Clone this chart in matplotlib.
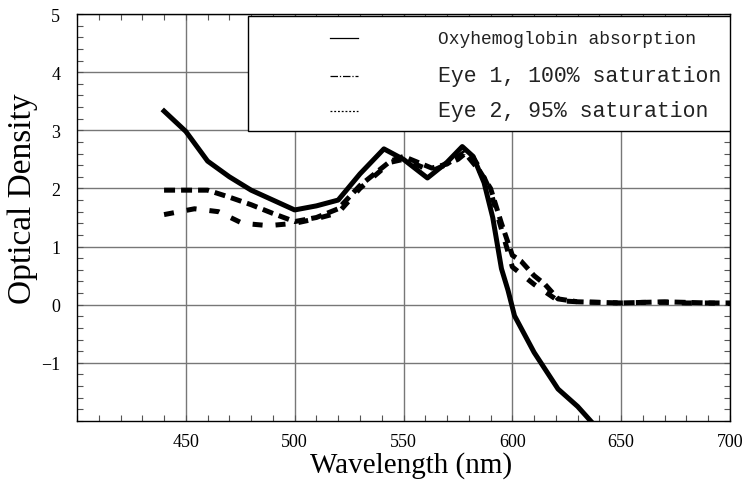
import matplotlib
matplotlib.use('Agg')
import matplotlib.pyplot as plt
from matplotlib.lines import Line2D
from matplotlib.patches import Rectangle
from matplotlib.ticker import MultipleLocator

# oxyhemoglobin absorption (solid)
oxy_x = [440, 450, 460, 470, 480, 490, 500, 510, 520, 530, 541, 550, 561, 570, 577,
         582, 587, 591, 595, 598, 601, 610, 621, 630, 636]
oxy_y = [3.33, 2.98, 2.47, 2.2, 1.97, 1.8, 1.63, 1.7, 1.8, 2.25, 2.68, 2.5, 2.18, 2.45, 2.72,
         2.55, 2.1, 1.5, 0.62, 0.25, -0.19, -0.82, -1.45, -1.75, -2.0]

# eye 1, 100% saturation
eye1_x = [440, 450, 460, 470, 480, 490, 500, 510, 520, 530, 544, 550, 563, 570, 578,
          585, 590, 595, 600, 604, 610, 615, 621, 630, 640, 650, 660, 670, 680, 690, 700]
eye1_y = [1.97, 1.97, 1.97, 1.85, 1.72, 1.57, 1.43, 1.5, 1.65, 2.05, 2.47, 2.55, 2.35, 2.42, 2.62,
          2.3, 2.0, 1.4, 0.85, 0.75, 0.5, 0.35, 0.1, 0.05, 0.04, 0.03, 0.04, 0.05, 0.04, 0.03, 0.03]

# eye 2, 95% saturation
eye2_x = [440, 454, 465, 476, 488, 500, 510, 520, 530, 544, 550, 563, 575, 580,
          585, 590, 595, 600, 610, 621, 630, 640, 650, 660, 670, 680, 690, 700]
eye2_y = [1.55, 1.65, 1.6, 1.4, 1.36, 1.4, 1.48, 1.58, 2.0, 2.45, 2.5, 2.3, 2.5, 2.65,
          2.35, 1.95, 1.3, 0.65, 0.35, 0.07, 0.05, 0.04, 0.03, 0.04, 0.04, 0.03, 0.03, 0.02]

labels = ['Oxyhemoglobin absorption', 'Eye 1, 100% saturation', 'Eye 2, 95% saturation']

fig = plt.figure(figsize=(7.49, 4.85), dpi=100)
ax = fig.add_axes([77/749, 1-422/485, 653/749, 407/485])

ax.plot(oxy_x, oxy_y, color='black', lw=3.6, solid_joinstyle='round')
ax.plot(eye1_x, eye1_y, color='black', lw=3.6, dashes=(2.2, 1.2))
ax.plot(eye2_x, eye2_y, color='black', lw=3.6, dashes=(2.0, 2.6))

ax.set_xlim(400, 700)
ax.set_ylim(-2, 5)
ax.set_xticks([450, 500, 550, 600, 650, 700])
ax.set_yticks([-1, 0, 1, 2, 3, 4, 5])
ax.xaxis.set_minor_locator(MultipleLocator(10))
ax.yaxis.set_minor_locator(MultipleLocator(0.2))
ax.set_yticklabels(['\u22121', '0', '1', '2', '3', '4', '5'])
ax.tick_params(which='both', direction='in', top=True, right=True, width=0.8, color='#555555')
ax.tick_params(which='major', length=4, labelsize=13)
ax.tick_params(axis='x', which='major', pad=9)
ax.tick_params(axis='y', which='major', pad=12)
ax.tick_params(which='minor', length=4)
for t in ax.get_xticklabels() + ax.get_yticklabels():
    t.set_fontfamily('Liberation Serif')
ax.grid(True, which='major', color='#777777', lw=1.0)
for s in ax.spines.values():
    s.set_linewidth(1.0)

ax.set_xlabel('Wavelength (nm)', fontsize=21, family='Liberation Serif')
ax.xaxis.set_label_coords(0.511, -0.074)
ax.set_ylabel('Optical Density', fontsize=24, family='Liberation Serif')
ax.yaxis.set_label_coords(-0.06, 0.548)

# legend box drawn by hand
ax.add_patch(Rectangle((0.262, 0.7125), 0.738, 0.2825, transform=ax.transAxes,
                       facecolor='white', edgecolor='black', lw=1.0, zorder=5))
rows = [0.941, 0.848, 0.762]
styles = [dict(ls='-'), dict(dashes=(6, 1.5, 1, 1.5)), dict(dashes=(1.5, 1.5))]
sizes = [12.9, 15.5, 15.5]
for r, st, lab, fs in zip(rows, styles, labels, sizes):
    ax.add_line(Line2D([0.387, 0.430], [r, r], transform=ax.transAxes, color='black',
                       lw=0.9, zorder=6, **st))
    ax.text(0.553, r, lab, transform=ax.transAxes, fontsize=fs, family='Liberation Mono',
            va='center', ha='left', color='#222222', zorder=6)

fig.savefig('out.png', dpi=100)
